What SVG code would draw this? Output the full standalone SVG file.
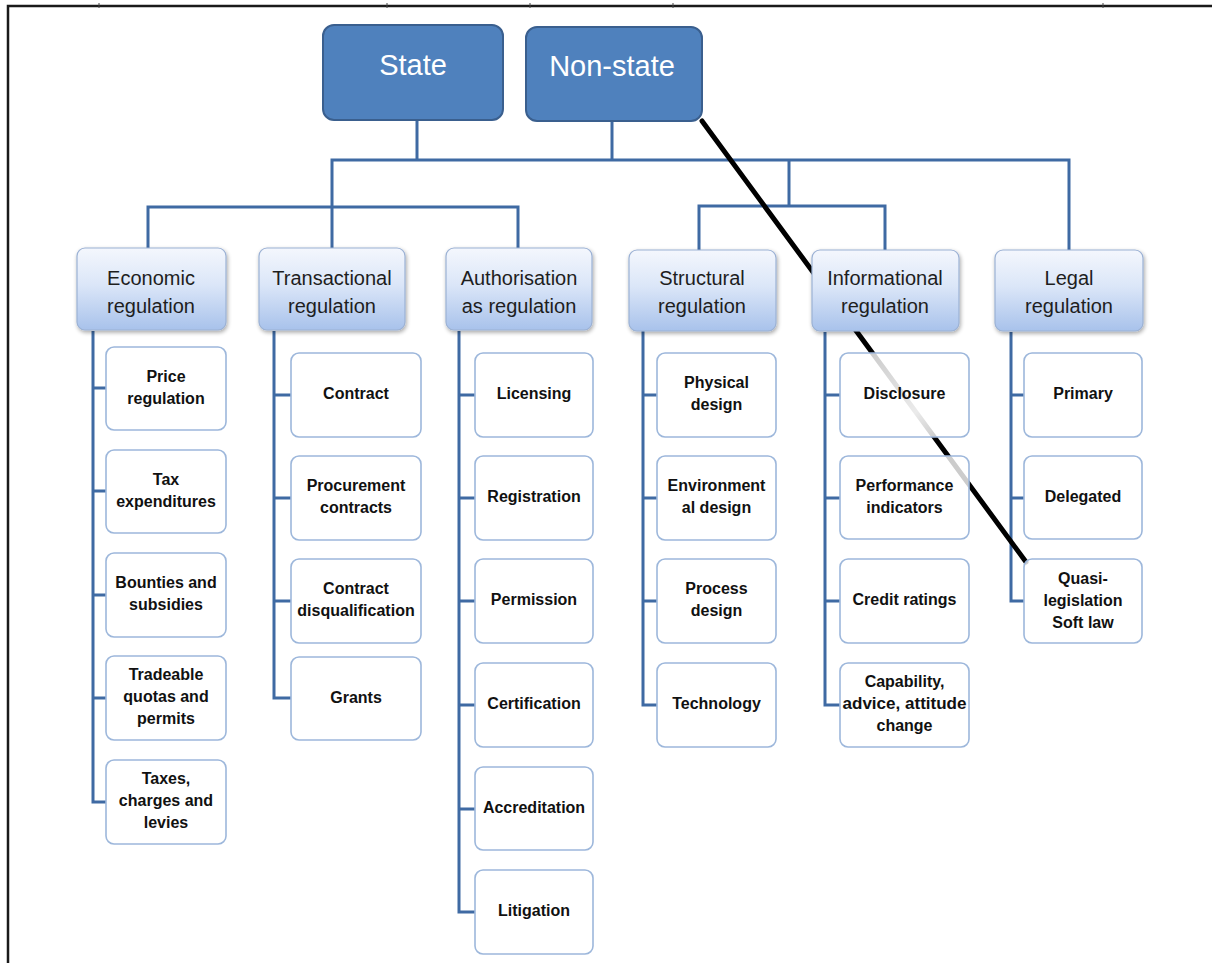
<svg xmlns="http://www.w3.org/2000/svg" width="1212" height="963" viewBox="0 0 1212 963">
  <defs>
    <linearGradient id="catFill" x1="0" y1="0" x2="0" y2="1">
      <stop offset="0" stop-color="#f4f7fd"/>
      <stop offset="0.45" stop-color="#dbe6f8"/>
      <stop offset="1" stop-color="#a8c2eb"/>
    </linearGradient>
    <filter id="shadow" x="-10%" y="-10%" width="125%" height="130%">
      <feGaussianBlur in="SourceAlpha" stdDeviation="2"/>
      <feOffset dx="1" dy="2" result="b"/>
      <feComponentTransfer><feFuncA type="linear" slope="0.35"/></feComponentTransfer>
      <feMerge><feMergeNode/><feMergeNode in="SourceGraphic"/></feMerge>
    </filter>
    <!-- the diagonal stroke pales where it runs under the Disclosure box -->
    <linearGradient id="slash" gradientUnits="userSpaceOnUse" x1="702" y1="121" x2="1026" y2="562">
      <stop offset="0" stop-color="#000"/>
      <stop offset="0.52" stop-color="#000"/>
      <stop offset="0.66" stop-color="#999"/>
      <stop offset="0.72" stop-color="#000"/>
      <stop offset="1" stop-color="#000"/>
    </linearGradient>
  </defs>
  <style>
    .frame { fill: none; stroke: #1a1a1a; stroke-width: 2.5; }
    .tick { stroke: #444; stroke-width: 1; }
    .top { fill: #4f81bd; stroke: #3a5f8e; stroke-width: 2; }
    .topText { font-family: "Liberation Sans", Arial, sans-serif; font-size: 29px; fill: #ffffff; text-anchor: middle; }
    .cat { fill: url(#catFill); stroke: #9bb1d4; stroke-width: 1.2; filter: url(#shadow); }
    .catText { font-family: "Liberation Sans", Arial, sans-serif; font-size: 20px; fill: #1e1e1e; text-anchor: middle; }
    .leaf { fill: #ffffff; fill-opacity: 0.8; stroke: #9db7db; stroke-width: 1.6; }
    .leafText { font-family: "Liberation Sans", Arial, sans-serif; font-size: 16px; font-weight: bold; fill: #111; text-anchor: middle; }
    .conn { fill: none; stroke: #3f6aa3; stroke-width: 3; }
  </style>

  <rect x="0" y="0" width="1212" height="963" fill="#ffffff"/>

  <!-- page frame -->
  <path class="frame" d="M1212 6 H8 V963"/>
  <g class="tick">
    <line x1="99" y1="3" x2="99" y2="8"/>
    <line x1="387" y1="3" x2="387" y2="8"/>
    <line x1="530" y1="3" x2="530" y2="8"/>
    <line x1="673" y1="3" x2="673" y2="8"/>
    <line x1="1103" y1="3" x2="1103" y2="8"/>
  </g>

  <!-- connectors -->
  <g id="connectors" class="conn">
    <path d="M417 120 V160"/>
    <path d="M612 121 V160"/>
    <path d="M332 249 V160 H1069 V250"/>
    <path d="M148 249 V207 H518 V249"/>
    <path d="M789 160 V206"/>
    <path d="M699 250 V206 H885 V250"/>
    <!-- Economic branch -->
    <path d="M93 331 V802 H106"/>
    <path d="M93 388 H106 M93 491 H106 M93 595 H106 M93 698 H106"/>
    <!-- Transactional branch -->
    <path d="M274 331 V698 H291"/>
    <path d="M274 395 H291 M274 498 H291 M274 601 H291"/>
    <!-- Authorisation branch -->
    <path d="M459 331 V912 H475"/>
    <path d="M459 395 H475 M459 498 H475 M459 601 H475 M459 705 H475 M459 809 H475"/>
    <!-- Structural branch -->
    <path d="M643 331 V705 H657"/>
    <path d="M643 395 H657 M643 498 H657 M643 601 H657"/>
    <!-- Informational branch -->
    <path d="M825 332 V705 H840"/>
    <path d="M825 395 H840 M825 498 H840 M825 601 H840"/>
    <!-- Legal branch -->
    <path d="M1011 332 V601 H1024"/>
    <path d="M1011 395 H1024 M1011 498 H1024"/>
  </g>

  <!-- diagonal stroke across the right half, passing under the boxes -->
  <line x1="702" y1="121" x2="1026" y2="562" stroke="url(#slash)" stroke-width="5" stroke-linecap="round"/>

  <!-- top level -->
  <g id="state">
    <rect class="top" x="323" y="25" width="180" height="95" rx="11"/>
    <text class="topText" x="413" y="75">State</text>
  </g>
  <g id="non-state">
    <rect class="top" x="526" y="27" width="176" height="94" rx="11"/>
    <text class="topText" x="612" y="76">Non-state</text>
  </g>

  <!-- categories -->
  <g id="economic">
    <rect class="cat" x="77" y="248" width="149" height="82" rx="8"/>
    <text class="catText" x="151" y="285">Economic</text>
    <text class="catText" x="151" y="313">regulation</text>
  </g>
  <g id="transactional">
    <rect class="cat" x="259" y="248" width="146" height="82" rx="8"/>
    <text class="catText" x="332" y="285">Transactional</text>
    <text class="catText" x="332" y="313">regulation</text>
  </g>
  <g id="authorisation">
    <rect class="cat" x="446" y="248" width="146" height="82" rx="8"/>
    <text class="catText" x="519" y="285">Authorisation</text>
    <text class="catText" x="519" y="313">as regulation</text>
  </g>
  <g id="structural">
    <rect class="cat" x="629" y="250" width="147" height="81" rx="8"/>
    <text class="catText" x="702" y="285">Structural</text>
    <text class="catText" x="702" y="313">regulation</text>
  </g>
  <g id="informational">
    <rect class="cat" x="812" y="250" width="147" height="81" rx="8"/>
    <text class="catText" x="885" y="285">Informational</text>
    <text class="catText" x="885" y="313">regulation</text>
  </g>
  <g id="legal">
    <rect class="cat" x="995" y="250" width="148" height="81" rx="8"/>
    <text class="catText" x="1069" y="285">Legal</text>
    <text class="catText" x="1069" y="313">regulation</text>
  </g>

  <!-- Economic leaves -->
  <g id="price-regulation">
    <rect class="leaf" x="106" y="347" width="120" height="83" rx="8"/>
    <text class="leafText" x="166" y="382">Price</text>
    <text class="leafText" x="166" y="404">regulation</text>
  </g>
  <g id="tax-expenditures">
    <rect class="leaf" x="106" y="450" width="120" height="83" rx="8"/>
    <text class="leafText" x="166" y="485">Tax</text>
    <text class="leafText" x="166" y="507">expenditures</text>
  </g>
  <g id="bounties">
    <rect class="leaf" x="106" y="553" width="120" height="84" rx="8"/>
    <text class="leafText" x="166" y="588">Bounties and</text>
    <text class="leafText" x="166" y="610">subsidies</text>
  </g>
  <g id="tradeable-quotas">
    <rect class="leaf" x="106" y="656" width="120" height="84" rx="8"/>
    <text class="leafText" x="166" y="680">Tradeable</text>
    <text class="leafText" x="166" y="702">quotas and</text>
    <text class="leafText" x="166" y="724">permits</text>
  </g>
  <g id="taxes-charges">
    <rect class="leaf" x="106" y="760" width="120" height="84" rx="8"/>
    <text class="leafText" x="166" y="784">Taxes,</text>
    <text class="leafText" x="166" y="806">charges and</text>
    <text class="leafText" x="166" y="828">levies</text>
  </g>

  <!-- Transactional leaves -->
  <g id="contract">
    <rect class="leaf" x="291" y="353" width="130" height="84" rx="8"/>
    <text class="leafText" x="356" y="399">Contract</text>
  </g>
  <g id="procurement">
    <rect class="leaf" x="291" y="456" width="130" height="84" rx="8"/>
    <text class="leafText" x="356" y="491">Procurement</text>
    <text class="leafText" x="356" y="513">contracts</text>
  </g>
  <g id="contract-disqualification">
    <rect class="leaf" x="291" y="559" width="130" height="84" rx="8"/>
    <text class="leafText" x="356" y="594">Contract</text>
    <text class="leafText" x="356" y="616">disqualification</text>
  </g>
  <g id="grants">
    <rect class="leaf" x="291" y="657" width="130" height="83" rx="8"/>
    <text class="leafText" x="356" y="703">Grants</text>
  </g>

  <!-- Authorisation leaves -->
  <g id="licensing">
    <rect class="leaf" x="475" y="353" width="118" height="84" rx="8"/>
    <text class="leafText" x="534" y="399">Licensing</text>
  </g>
  <g id="registration">
    <rect class="leaf" x="475" y="456" width="118" height="84" rx="8"/>
    <text class="leafText" x="534" y="502">Registration</text>
  </g>
  <g id="permission">
    <rect class="leaf" x="475" y="559" width="118" height="84" rx="8"/>
    <text class="leafText" x="534" y="605">Permission</text>
  </g>
  <g id="certification">
    <rect class="leaf" x="475" y="663" width="118" height="84" rx="8"/>
    <text class="leafText" x="534" y="709">Certification</text>
  </g>
  <g id="accreditation">
    <rect class="leaf" x="475" y="767" width="118" height="83" rx="8"/>
    <text class="leafText" x="534" y="813">Accreditation</text>
  </g>
  <g id="litigation">
    <rect class="leaf" x="475" y="870" width="118" height="84" rx="8"/>
    <text class="leafText" x="534" y="916">Litigation</text>
  </g>

  <!-- Structural leaves -->
  <g id="physical-design">
    <rect class="leaf" x="657" y="353" width="119" height="84" rx="8"/>
    <text class="leafText" x="716.5" y="388">Physical</text>
    <text class="leafText" x="716.5" y="410">design</text>
  </g>
  <g id="environmental-design">
    <rect class="leaf" x="657" y="456" width="119" height="84" rx="8"/>
    <text class="leafText" x="716.5" y="491">Environment</text>
    <text class="leafText" x="716.5" y="513">al design</text>
  </g>
  <g id="process-design">
    <rect class="leaf" x="657" y="559" width="119" height="84" rx="8"/>
    <text class="leafText" x="716.5" y="594">Process</text>
    <text class="leafText" x="716.5" y="616">design</text>
  </g>
  <g id="technology">
    <rect class="leaf" x="657" y="663" width="119" height="84" rx="8"/>
    <text class="leafText" x="716.5" y="709">Technology</text>
  </g>

  <!-- Informational leaves -->
  <g id="disclosure">
    <rect class="leaf" x="840" y="353" width="129" height="84" rx="8"/>
    <text class="leafText" x="904.5" y="399">Disclosure</text>
  </g>
  <g id="performance-indicators">
    <rect class="leaf" x="840" y="456" width="129" height="83" rx="8"/>
    <text class="leafText" x="904.5" y="491">Performance</text>
    <text class="leafText" x="904.5" y="513">indicators</text>
  </g>
  <g id="credit-ratings">
    <rect class="leaf" x="840" y="559" width="129" height="84" rx="8"/>
    <text class="leafText" x="904.5" y="605">Credit ratings</text>
  </g>
  <g id="capability">
    <rect class="leaf" x="840" y="663" width="129" height="84" rx="8"/>
    <text class="leafText" x="904.5" y="687">Capability,</text>
    <text class="leafText" x="904.5" y="709" textLength="124" lengthAdjust="spacingAndGlyphs">advice, attitude</text>
    <text class="leafText" x="904.5" y="731">change</text>
  </g>

  <!-- Legal leaves -->
  <g id="primary">
    <rect class="leaf" x="1024" y="353" width="118" height="84" rx="8"/>
    <text class="leafText" x="1083" y="399">Primary</text>
  </g>
  <g id="delegated">
    <rect class="leaf" x="1024" y="456" width="118" height="83" rx="8"/>
    <text class="leafText" x="1083" y="502">Delegated</text>
  </g>
  <g id="quasi-legislation">
    <rect class="leaf" x="1024" y="559" width="118" height="84" rx="8"/>
    <text class="leafText" x="1083" y="584">Quasi-</text>
    <text class="leafText" x="1083" y="606">legislation</text>
    <text class="leafText" x="1083" y="628">Soft law</text>
  </g>
</svg>
